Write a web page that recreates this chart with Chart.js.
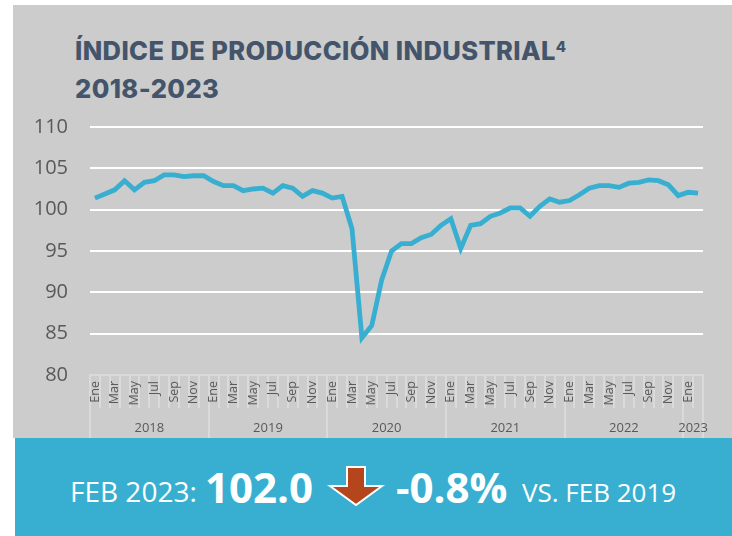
<!DOCTYPE html>
<html>
<head>
<meta charset="utf-8">
<script src="https://cdn.jsdelivr.net/npm/chart.js@4.4.1/dist/chart.umd.min.js"></script>
<style>
    html, body { margin: 0; padding: 0; background: #ffffff; }
    body { width: 732px; height: 536px; position: relative; overflow: hidden; font-family: "Open Sans", sans-serif; }
    #panel { position: absolute; left: 13px; top: 5px; width: 719px; height: 433px; background: #cccccc; }
    #title { position: absolute; left: 75px; top: 32px; margin: 0; color: #44546a; font-family: Inter, "Open Sans", sans-serif;
             font-weight: 800; font-size: 25.5px; line-height: 38px; letter-spacing: 0.4px; }
    #title sup { font-size: 15px; vertical-align: top; position: relative; top: -4px; margin-left: 0; }
    #chart { position: absolute; left: 13px; top: 110px; }
    #banner { position: absolute; left: 15px; top: 438px; width: 717px; height: 98px; background: #38afd0; color: #ffffff; }
    #banner span { position: absolute; white-space: nowrap; line-height: 1; }
    .lite { font-weight: 400; }
    .big { font-weight: 700; }
    #arrow { position: absolute; left: 311px; top: 27px; }
</style>
</head>
<body>
<div id="panel"></div>
<h1 id="title">ÍNDICE DE PRODUCCIÓN INDUSTRIAL<sup>4</sup><br>2018-2023</h1>
<canvas id="chart" width="719" height="328"></canvas>
<div id="banner">
    <span class="lite" style="left:55px; top:39px; font-size:28px;">FEB 2023:</span>
    <span class="big" style="left:190px; top:28px; font-size:42px;">102.0</span>
    <svg id="arrow" width="60" height="42" viewBox="0 0 60 42">
        <polygon points="21,2 39,2 39,21 56,21 30,40 4,21 21,21" fill="#b5451b" stroke="#ffffff" stroke-width="2" stroke-linejoin="miter"/>
    </svg>
    <span class="big" style="left:381px; top:28px; font-size:42px;">-0.8%</span>
    <span class="lite" style="left:507px; top:41px; font-size:26px;">VS. FEB 2019</span>
</div>
<script>
// Meses y años del eje
const MONTHS = ['Ene', 'Feb', 'Mar', 'Abr', 'May', 'Jun', 'Jul', 'Ago', 'Sep', 'Oct', 'Nov', 'Dic'];
const YEARS = ['2018', '2019', '2020', '2021', '2022', '2023'];

// Índice de producción industrial, mensual
const ipi2018 = [101.4, 101.9, 102.4, 103.5, 102.4, 103.3, 103.5, 104.2, 104.2, 104.0, 104.1, 104.1];
const ipi2019 = [103.4, 102.9, 102.9, 102.3, 102.5, 102.6, 102.0, 102.9, 102.6, 101.6, 102.3, 102.0];
const ipi2020 = [101.4, 101.6, 97.7, 84.5, 86.0, 91.5, 95.0, 95.9, 95.9, 96.6, 97.0, 98.1];
const ipi2021 = [98.9, 95.3, 98.1, 98.3, 99.2, 99.6, 100.2, 100.2, 99.2, 100.4, 101.3, 100.9];
const ipi2022 = [101.1, 101.8, 102.6, 102.9, 102.9, 102.7, 103.2, 103.3, 103.6, 103.5, 103.0, 101.7];
const ipi2023 = [102.1, 102.0];

const yTicks = [80, 85, 90, 95, 100, 105, 110];

const series = [ipi2018, ipi2019, ipi2020, ipi2021, ipi2022, ipi2023];
const values = series.flat();
const labels = [];
series.forEach((arr, y) => arr.forEach((v, m) => labels.push(MONTHS[m])));

// Posiciones de años en el eje secundario (límites y centros)
const yearBounds = [];
const yearCenters = {};
let start = 0;
series.forEach((arr, y) => {
    yearBounds.push(start - 0.5);
    yearCenters[start - 0.5 + arr.length / 2] = YEARS[y];
    start += arr.length;
});
yearBounds.push(start - 0.5);
const yearTickValues = [...yearBounds, ...Object.keys(yearCenters).map(Number)].sort((a, b) => a - b);

const axisGrey = '#595959';
const cellLine = '#dadada';

new Chart(document.getElementById('chart'), {
    type: 'line',
    data: {
        labels: labels,
        datasets: [{
            data: values,
            borderColor: '#38afd0',
            borderWidth: 4.8,
            pointRadius: 0,
            tension: 0,
            fill: false
        }]
    },
    options: {
        responsive: false,
        animation: false,
        layout: { padding: { top: 17, right: 29, left: 0, bottom: 0 } },
        plugins: { legend: { display: false }, tooltip: { enabled: false } },
        scales: {
            y: {
                min: 80,
                max: 110,
                afterBuildTicks: (axis) => { axis.ticks = yTicks.map(v => ({ value: v })); },
                afterFit: (axis) => { axis.width = 77; },
                border: { display: false },
                grid: {
                    color: (ctx) => ctx.tick && ctx.tick.value === 80 ? 'rgba(0,0,0,0)' : '#ffffff',
                    lineWidth: 2,
                    drawTicks: true,
                    tickLength: 20,
                    tickColor: 'rgba(0,0,0,0)'
                },
                ticks: {
                    color: axisGrey,
                    padding: 2,
                    font: { family: 'Open Sans', size: 20 }
                }
            },
            x: {
                type: 'category',
                offset: true,
                weight: 0,
                afterFit: (axis) => { axis.height = 33; },
                border: { display: true, color: cellLine, width: 2 },
                grid: {
                    offset: true,
                    drawOnChartArea: false,
                    tickLength: 33,
                    color: cellLine,
                    lineWidth: 2
                },
                ticks: {
                    autoSkip: false,
                    minRotation: 90,
                    maxRotation: 90,
                    padding: -27,
                    color: axisGrey,
                    font: { family: 'Open Sans', size: 12.5 },
                    callback: function (value, index) {
                        return index % 2 === 0 ? this.getLabelForValue(value) : '';
                    }
                }
            },
            x2: {
                type: 'linear',
                position: 'bottom',
                weight: 1,
                min: -0.5,
                max: values.length - 0.5,
                afterBuildTicks: (axis) => { axis.ticks = yearTickValues.map(v => ({ value: v })); },
                afterFit: (axis) => { axis.height = 30; },
                border: { display: false },
                grid: {
                    drawOnChartArea: false,
                    tickLength: 30,
                    lineWidth: 2,
                    color: (ctx) => ctx.tick && yearBounds.includes(ctx.tick.value) ? cellLine : 'rgba(0,0,0,0)'
                },
                ticks: {
                    autoSkip: false,
                    maxRotation: 0,
                    padding: -18,
                    color: axisGrey,
                    font: { family: 'Open Sans', size: 13 },
                    callback: (value) => yearCenters[value] || ''
                }
            }
        }
    }
});
</script>
</body>
</html>
